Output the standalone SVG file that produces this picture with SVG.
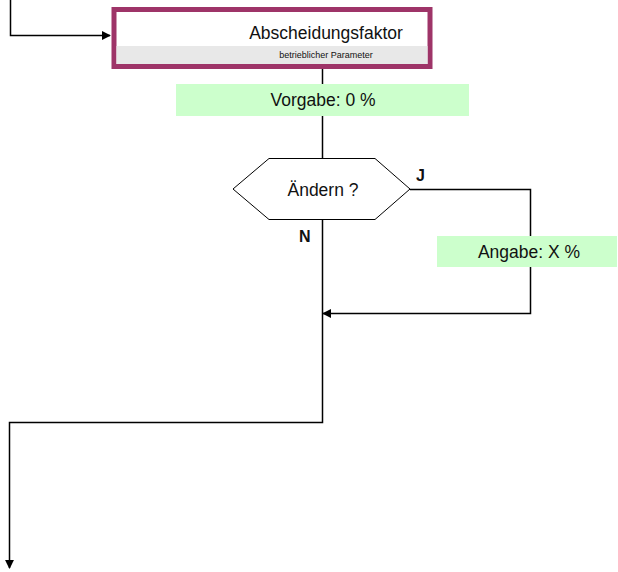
<svg xmlns="http://www.w3.org/2000/svg" width="618" height="572" viewBox="0 0 618 572">
  <style>
    .conn { fill: none; stroke: #000; stroke-width: 1.5; }
    .lbl { font-family: "Liberation Sans", Arial, sans-serif; fill: #111; }
    .note { fill: #CCFFCC; }
  </style>
  <defs>
    <marker id="arrow" viewBox="0 0 10 10" refX="9" refY="5" markerWidth="9" markerHeight="9" markerUnits="userSpaceOnUse" orient="auto">
      <path d="M0,0 L10,5 L0,10 z" fill="#000"/>
    </marker>
  </defs>
  <rect width="618" height="572" fill="#fff"/>

  <!-- connectors -->
  <g id="connectors">
    <path class="conn" d="M10.5,0 V35.5 H110" marker-end="url(#arrow)"/>
    <path class="conn" d="M322.5,68 V158"/>
    <path class="conn" d="M410,189.5 H530.5 V313.5 H323" marker-end="url(#arrow)"/>
    <path class="conn" d="M322.5,219 V422.5 H9.5 V568" marker-end="url(#arrow)"/>
  </g>

  <!-- parameter box -->
  <g id="abscheidungsfaktor">
    <rect x="114" y="9.5" width="316" height="57" fill="#fff" stroke="#9E3468" stroke-width="5"/>
    <rect x="116.5" y="46" width="311" height="18" fill="#E8E8E8"/>
    <text class="lbl" x="326" y="39" font-size="17.5" text-anchor="middle">Abscheidungsfaktor</text>
    <text class="lbl" x="326" y="58" font-size="9" text-anchor="middle" fill="#333">betrieblicher Parameter</text>
  </g>

  <!-- default value -->
  <g id="vorgabe">
    <rect class="note" x="176" y="84" width="293" height="32"/>
    <text class="lbl" x="323" y="106" font-size="17.5" text-anchor="middle">Vorgabe: 0 %</text>
  </g>

  <!-- decision -->
  <g id="aendern">
    <polygon points="233,189 269,158.5 375,158.5 410,189 375,219.5 269,219.5" fill="#fff" stroke="#000" stroke-width="1"/>
    <text class="lbl" x="323" y="196" font-size="17.5" text-anchor="middle">Ändern ?</text>
    <text class="lbl" x="416" y="181" font-size="16" font-weight="bold">J</text>
    <text class="lbl" x="299" y="242" font-size="16" font-weight="bold">N</text>
  </g>

  <!-- entered value -->
  <g id="angabe">
    <rect class="note" x="437" y="236" width="180" height="31"/>
    <text class="lbl" x="529" y="258" font-size="17.5" text-anchor="middle">Angabe: X %</text>
  </g>
</svg>
